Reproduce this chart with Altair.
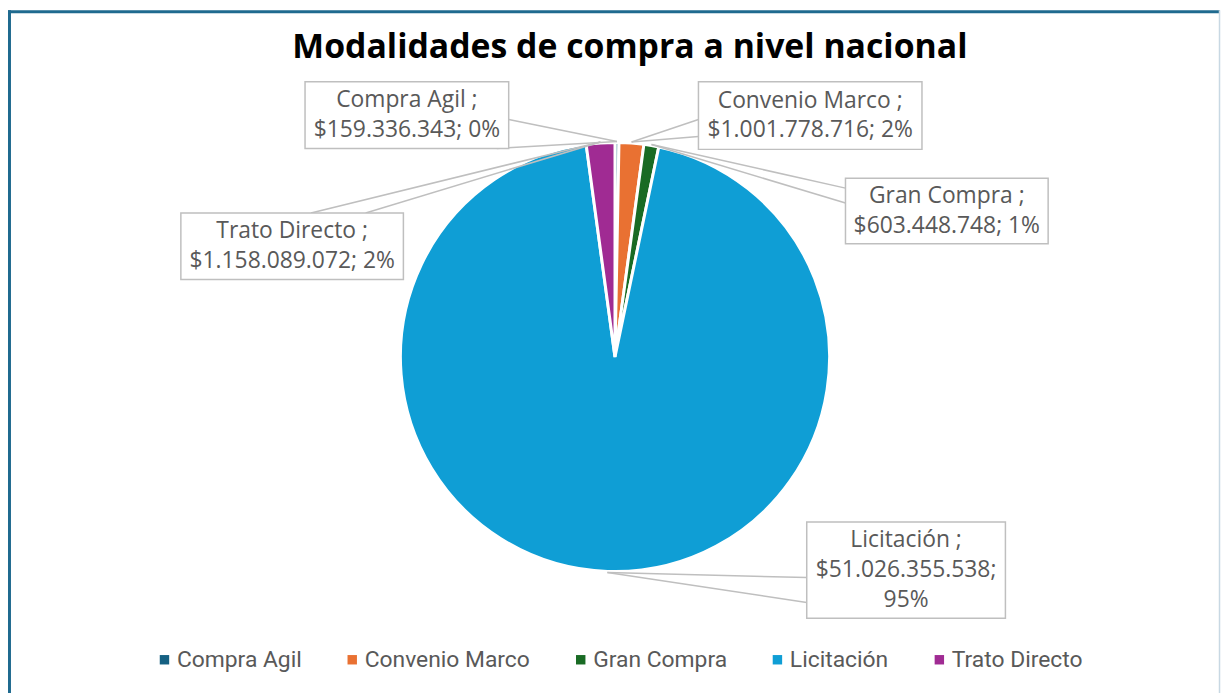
import altair as alt
import pandas as pd
import numpy as np

# ---- data ----
categories = ["Compra Agil", "Convenio Marco", "Gran Compra", "Licitación", "Trato Directo"]
values = [159336343, 1001778716, 603448748, 51026355538, 1158089072]
colors = ["#156082", "#E97132", "#196B24", "#0F9ED5", "#A02B93"]
title_text = "Modalidades de compra a nivel nacional"

# ---- layout ----
W, H = 1221, 700
CX, CY, R = 611, 349, 216
FONT = "Open Sans"
LH = 30

# label boxes (x1, y1, x2, y2) and wedge base points per category
boxes = {
    "Compra Agil": (299, 72, 504, 139),
    "Convenio Marco": (695, 72, 920, 140),
    "Gran Compra": (843, 169, 1047, 235),
    "Licitación": (804, 515, 1004, 612),
    "Trato Directo": (174, 204, 398, 271),
}
wedge_bases = {
    "Compra Agil": [(504, 110), (492, 139)],
    "Convenio Marco": [(695, 110), (695, 127)],
    "Gran Compra": [(843, 179), (843, 194)],
    "Licitación": [(804, 571), (804, 596)],
    "Trato Directo": [(305, 204), (360, 204)],
}
wrap_three = {"Licitación"}


def fmt_money(v):
    return "$" + f"{v:,}".replace(",", ".")


total = sum(values)
pcts = [round(v / total * 100) for v in values]

pie_df = pd.DataFrame({"cat": categories, "value": values, "idx": range(len(categories))})

# label text
lab_rows = []
for c, v, p in zip(categories, values, pcts):
    if c in wrap_three:
        lines = [f"{c} ;", f"{fmt_money(v)};", f"{p}%"]
    else:
        lines = [f"{c} ;", f"{fmt_money(v)}; {p}%"]
    x1, y1, x2, y2 = boxes[c]
    n = len(lines)
    lab_rows.append({"cat": c, "x1": x1, "y1": y1, "x2": x2, "y2": y2,
                     "cx": (x1 + x2) / 2,
                     "ty": (y1 + y2) / 2 - (n - 1) * LH / 2,
                     "txt": lines})
lab_df = pd.DataFrame(lab_rows)

# wedge tips at slice mid-angles (derived from data)
cum = np.cumsum([0] + values)
wedge_rows = []
for i, c in enumerate(categories):
    mid = (cum[i] + cum[i + 1]) / 2 / total * 2 * np.pi
    tx = CX + (R + 1) * np.sin(mid)
    ty = CY - (R + 1) * np.cos(mid)
    for (bx, by) in wedge_bases[c]:
        wedge_rows.append({"cat": c, "bx": bx, "by": by, "tx": tx, "ty": ty})
wedge_df = pd.DataFrame(wedge_rows)

dummy = pd.DataFrame({"a": [0]})

color_scale = alt.Scale(domain=categories, range=colors)

pie = alt.Chart(pie_df).mark_arc(outerRadius=R, stroke="white", strokeWidth=3).encode(
    theta=alt.Theta("value:Q", stack=True),
    color=alt.Color("cat:N", scale=color_scale, sort=categories,
                    legend=alt.Legend(orient="none", legendX=146, legendY=642,
                                      direction="horizontal", title=None,
                                      symbolType="square", symbolSize=90,
                                      symbolStrokeWidth=0,
                                      labelFont="Roboto", labelFontSize=23,
                                      labelColor="#595959", labelOffset=1,
                                      columnPadding=39, labelLimit=400,
                                      padding=0)),
    order=alt.Order("idx:Q"),
    x=alt.value(CX),
    y=alt.value(CY),
)

wedges = alt.Chart(wedge_df).mark_rule(color="#BFBFBF", strokeWidth=1.5).encode(
    x=alt.X("bx:Q", scale=None), y=alt.Y("by:Q", scale=None),
    x2="tx:Q", y2="ty:Q",
)

label_boxes = alt.Chart(lab_df).mark_rect(fill="white", stroke="#BFBFBF", strokeWidth=1.5).encode(
    x=alt.X("x1:Q", scale=None), x2="x2:Q",
    y=alt.Y("y1:Q", scale=None), y2="y2:Q",
)

label_text = alt.Chart(lab_df).mark_text(
    font=FONT, fontSize=23, color="#595959", align="center", baseline="middle", lineHeight=LH
).encode(
    x=alt.X("cx:Q", scale=None),
    y=alt.Y("ty:Q", scale=None),
    text="txt",
)

title = alt.Chart(dummy).mark_text(
    text=title_text, font=FONT, fontSize=34, fontWeight="bold", color="#000000",
    align="center", baseline="alphabetic"
).encode(x=alt.value(626), y=alt.value(48))

border_left = alt.Chart(dummy).mark_rule(color="#1F6A8F", strokeWidth=3).encode(
    x=alt.value(1.5), y=alt.value(0), y2=alt.value(H))
border_top = alt.Chart(dummy).mark_rule(color="#1F6A8F", strokeWidth=3).encode(
    x=alt.value(0), x2=alt.value(1220), y=alt.value(1.5))
border_right = alt.Chart(dummy).mark_rule(color="#C8D8E3", strokeWidth=1.5).encode(
    x=alt.value(1219.5), y=alt.value(0), y2=alt.value(H))

chart = alt.layer(
    border_left, border_top, border_right, pie, wedges, label_boxes, label_text, title
).properties(
    width=W, height=H, padding=0, autosize=alt.AutoSizeParams(type="none"),
    background="white"
).configure_view(stroke=None)

chart.save("out.html", embed_options={"renderer": "svg", "actions": False})
